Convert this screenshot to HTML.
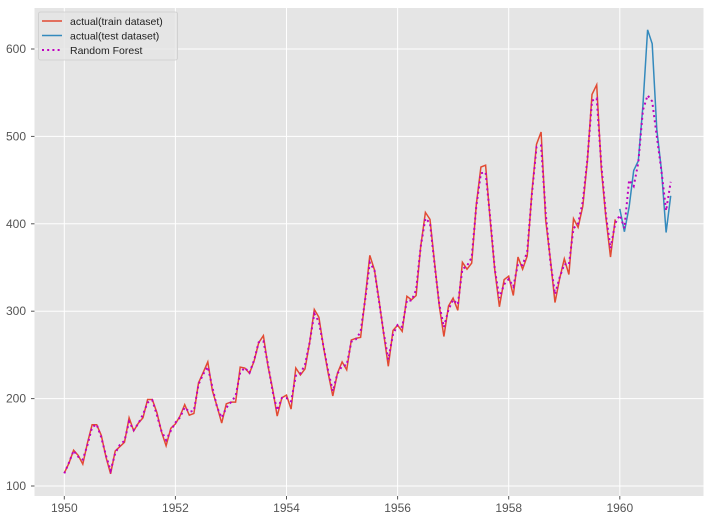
<!DOCTYPE html>
<html><head><meta charset="utf-8"><style>
html,body{margin:0;padding:0;background:#fff;width:710px;height:520px;overflow:hidden}
text{font-family:"Liberation Sans",sans-serif;font-size:12px;fill:#555}
</style></head><body>
<svg id="s" width="710" height="520" xmlns="http://www.w3.org/2000/svg">
<rect x="34.5" y="8" width="669" height="488" fill="#e5e5e5"/>
<g id="grid" stroke="#fff" stroke-width="1"></g>
<g id="lab"></g>
<path id="train" fill="none" stroke="#E24A33" stroke-width="1.5"/>
<path id="test" fill="none" stroke="#348ABD" stroke-width="1.5"/>
<path id="rf" fill="none" stroke="#bf00bf" stroke-width="2" stroke-dasharray="2,3.2"/>
<rect x="38.5" y="12" width="139" height="48" fill="#e5e5e5" fill-opacity="0.8" stroke="#ccc" stroke-width="0.8" rx="2"/>
<line x1="42" y1="21" x2="62" y2="21" stroke="#E24A33" stroke-width="1.5"/>
<line x1="42" y1="35.5" x2="62" y2="35.5" stroke="#348ABD" stroke-width="1.5"/>
<line x1="42" y1="50" x2="62" y2="50" stroke="#bf00bf" stroke-width="2" stroke-dasharray="2,3.2"/>
<text x="70" y="25" style="fill:#222;font-size:10.5px">actual(train dataset)</text>
<text x="70" y="39.5" style="fill:#222;font-size:10.5px">actual(test dataset)</text>
<text x="70" y="54" style="fill:#222;font-size:10.5px">Random Forest</text>
</svg>
<script>
var a=[115,126,141,135,125,149,170,170,158,133,114,140,145,150,178,163,172,178,199,199,184,162,146,166,171,180,193,181,183,218,230,242,209,191,172,194,196,196,236,235,229,243,264,272,237,211,180,201,204,188,235,227,234,264,302,293,259,229,203,229,242,233,267,269,270,315,364,347,312,274,237,278,284,277,317,313,318,374,413,405,355,306,271,306,315,301,356,348,355,422,465,467,404,347,305,336,340,318,362,348,363,435,491,505,404,359,310,337,360,342,406,396,420,472,548,559,463,407,362,405];
var t=[417,391,419,461,472,535,622,606,508,461,390,432];
var rt=[410,395,450,443,470,530,547,540,500,460,415,448];
function X(i){return 64.3+i/12*55.55}
function Y(v){return 486-(v-100)*0.874}
var g=document.getElementById('grid'),l=document.getElementById('lab'),ns='http://www.w3.org/2000/svg';
function el(p,n,at,tx){var e=document.createElementNS(ns,n);for(var k in at)e.setAttribute(k,at[k]);if(tx)e.textContent=tx;p.appendChild(e)}
for(var y=1950;y<=1960;y+=2){var x=X((y-1950)*12);el(g,'line',{x1:x,x2:x,y1:8,y2:496});el(l,'line',{x1:x,x2:x,y1:496,y2:499.5,stroke:'#555'});el(l,'text',{x:x,y:512,'text-anchor':'middle'},y)}
for(var v=100;v<=600;v+=100){var yy=Y(v);el(g,'line',{x1:34.5,x2:703.5,y1:yy,y2:yy});el(l,'line',{x1:31,x2:34.5,y1:yy,y2:yy,stroke:'#555'});el(l,'text',{x:26,y:yy+4,'text-anchor':'end'},v)}
function P(arr,o){return arr.map(function(v,i){return(i?'L':'M')+X(i+o).toFixed(1)+','+Y(v).toFixed(1)}).join('')}
document.getElementById('train').setAttribute('d',P(a,0));
document.getElementById('test').setAttribute('d',P(t,120));
var rf=a.map(function(v,i){var p=a[i-1]||v,n=a[i+1]||v;return 0.75*v+0.125*(p+n)+((i*7)%5-2)});
document.getElementById('rf').setAttribute('d',P(rf.concat(rt),0));
</script>
</body></html>
